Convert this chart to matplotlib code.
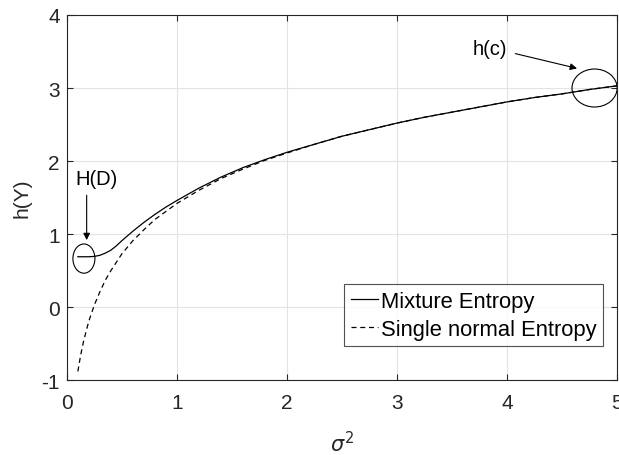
import matplotlib
matplotlib.use('Agg')
import matplotlib.pyplot as plt
from matplotlib.patches import Ellipse

# values
sigma_single = [0.1, 0.125, 0.15, 0.175, 0.2, 0.25, 0.3, 0.35, 0.4, 0.5, 0.6, 0.7, 0.8, 0.9, 1.0,
                1.2, 1.4, 1.6, 1.8, 2.0, 2.25, 2.5, 2.75, 3.0, 3.25, 3.5, 3.75, 4.0,
                4.25, 4.5, 4.75, 5.0]
h_single = [-0.88, -0.66, -0.48, -0.33, -0.19, 0.03, 0.21, 0.37, 0.50, 0.73, 0.91, 1.06, 1.20,
            1.31, 1.42, 1.60, 1.76, 1.89, 2.01, 2.11, 2.23, 2.34, 2.43, 2.52, 2.60,
            2.67, 2.74, 2.81, 2.87, 2.92, 2.98, 3.03]

sigma_mix = [0.1, 0.15, 0.2, 0.25, 0.3, 0.35, 0.4, 0.45, 0.5, 0.6, 0.7, 0.8, 0.9, 1.0,
             1.2, 1.4, 1.6, 1.8, 2.0, 2.25, 2.5, 2.75, 3.0, 3.25, 3.5, 3.75, 4.0,
             4.25, 4.5, 4.75, 5.0]
h_mix = [0.69, 0.69, 0.69, 0.695, 0.71, 0.74, 0.78, 0.84, 0.91, 1.04, 1.16, 1.27, 1.37, 1.46,
         1.63, 1.78, 1.91, 2.02, 2.12, 2.23, 2.34, 2.43, 2.52, 2.60,
         2.67, 2.74, 2.81, 2.87, 2.92, 2.98, 3.03]

plt.rcParams['font.family'] = ['Liberation Sans', 'DejaVu Sans']
plt.rcParams['mathtext.fontset'] = 'dejavusans'
plt.rcParams['axes.unicode_minus'] = False

fig = plt.figure(figsize=(6.19, 4.56), dpi=100)
ax = fig.add_axes([0.108, 0.164, 0.889, 0.801])

ax.plot(sigma_mix, h_mix, color='black', linewidth=0.9, label='Mixture Entropy')
ax.plot(sigma_single, h_single, color='black', linewidth=0.9, linestyle=(0, (4, 3)),
        label='Single normal Entropy')

ax.set_xlim(0, 5)
ax.set_ylim(-1, 4)
ax.set_xticks([0, 1, 2, 3, 4, 5])
ax.set_yticks([-1, 0, 1, 2, 3, 4])
ax.grid(True, color='#e3e3e3', linewidth=0.8)
ax.set_axisbelow(True)
for s in ax.spines.values():
    s.set_color('#262626')
    s.set_linewidth(0.8)
ax.tick_params(direction='in', length=4, colors='#262626', labelsize=15,
               top=True, right=True)
ax.tick_params(axis='x', pad=9)
ax.tick_params(axis='y', pad=5)
ax.set_xlabel(r'$\sigma^2$', fontsize=15, color='#262626')
ax.set_ylabel('h(Y)', fontsize=15, color='#262626')
ax.xaxis.set_label_coords(0.5, -0.137)
ax.yaxis.set_label_coords(-0.064, 0.5)

# annotations
ax.add_patch(Ellipse((0.155, 0.665), 0.2, 0.4, fill=False, edgecolor='black', linewidth=0.8))
ax.add_patch(Ellipse((4.795, 3.0), 0.41, 0.52, fill=False, edgecolor='black', linewidth=0.8,
                     clip_on=False))
ax.annotate('', xy=(0.18, 0.88), xytext=(0.18, 1.57),
            arrowprops=dict(arrowstyle='-|>', color='black', lw=0.8, mutation_scale=10))
ax.text(0.27, 1.76, 'H(D)', fontsize=14.5, ha='center', va='center')
ax.annotate('', xy=(4.66, 3.26), xytext=(4.05, 3.48),
            arrowprops=dict(arrowstyle='-|>', color='black', lw=0.8, mutation_scale=10))
ax.text(3.84, 3.54, 'h(c)', fontsize=14.5, ha='center', va='center')

leg = ax.legend(loc='lower right', bbox_to_anchor=(0.9745, 0.093), fontsize=15.8,
                frameon=True, fancybox=False, edgecolor='#262626', handlelength=1.23,
                handletextpad=0.14, borderpad=0.3, labelspacing=0.3, borderaxespad=0)
leg.get_frame().set_linewidth(0.8)

fig.savefig('out.png', dpi=100)
